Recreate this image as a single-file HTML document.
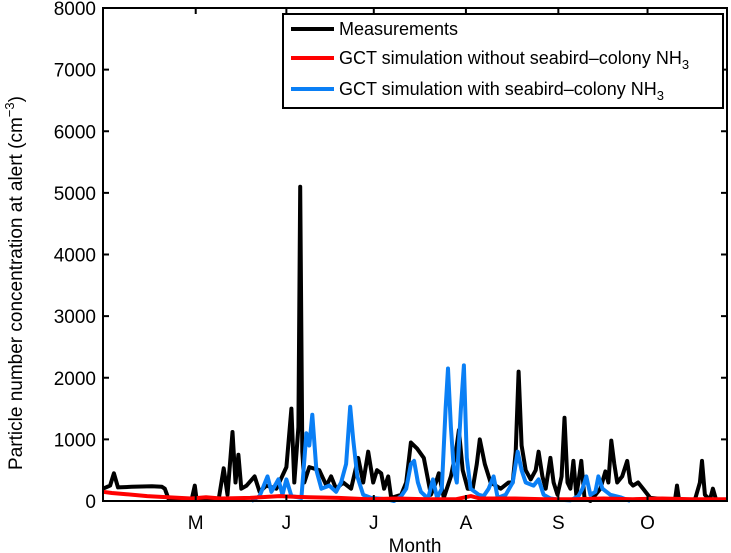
<!DOCTYPE html>
<html><head><meta charset="utf-8"><style>
body{margin:0;background:#fff;}
svg{display:block;font-family:"Liberation Sans",sans-serif;}
</style></head><body>
<svg id="chart" width="731" height="553" viewBox="0 0 731 553" xmlns="http://www.w3.org/2000/svg"></svg>
<script>
const monthLabels=["M","J","J","A","S","O"];
const monthDays=[31.5,62.3,92,123.3,154.7,185];
const yTicks=[0,1000,2000,3000,4000,5000,6000,7000,8000];
const measDays=[0,2.4,3.7,5.1,9.8,16.6,20,21,22.4,30.1,31.2,31.8,39.3,41,42.3,44,45,46,47,48.8,51.5,53.2,55.5,58.9,62.3,64,65,66.4,67,67.7,68.4,70.1,73.5,75.9,77.5,79.2,81.6,84.3,86.7,88.4,90.1,91.8,93.1,94.5,95.5,96.9,97.9,101.3,103,104.6,106.7,109,111.4,113.1,114.1,115.8,118.2,119.9,120.9,122.2,123.9,125.6,127,128,129.7,131.7,135.1,137.8,139.2,140.2,141.2,142.2,143.6,145.3,147,148,149.3,150.4,152,153.1,154.4,155.8,156.8,157.8,158.8,159.8,160.8,161.5,162.5,163.6,165.6,169,170.7,171.7,172.7,173.7,174.7,176.4,178.1,179.1,180.1,181.8,183.5,185.9,192.7,194.4,195,195.7,201.1,202.8,203.5,204.5,206.2,207.2,208.3,212];
const measVals=[200,250,450,220,230,240,230,200,20,20,250,20,30,530,100,1120,300,750,200,250,400,150,250,200,550,1500,300,1200,5100,800,300,550,500,250,400,200,300,200,700,300,800,300,500,450,200,400,50,100,300,950,850,700,100,300,450,50,400,800,1150,500,200,200,600,1000,600,300,200,300,300,800,2100,900,500,350,500,800,400,200,700,300,100,400,1350,300,200,650,100,300,650,50,0,200,480,300,980,600,300,400,650,300,250,300,200,50,20,40,250,20,20,300,650,100,20,200,20,20];
const withDays=[50.5,53.2,55.9,57.2,59.6,61,62.3,64,67.4,69.1,70.1,71.1,72.5,74.2,76.9,79.2,80.9,82.6,84,85,86.4,88.4,91.1,96.2,98.9,101.3,103,104.6,105.7,107,108,110.4,112.1,113.5,115.1,116.4,117.2,118.2,119.2,120.2,121.6,122.6,123.6,124.9,127.7,129.3,131,132.7,134.1,136.8,139.2,140.9,142.2,143.6,146.3,148,149.7,152,155.4,158.8,161.5,162.9,164.2,165.6,167.3,168.3,169.7,172.4,175.8,179.1];
const withVals=[0,80,400,150,350,100,350,80,50,1100,900,1400,500,200,250,150,300,600,1530,1000,400,100,50,30,0,80,200,600,650,300,150,40,350,50,200,1500,2150,1200,500,300,1500,2200,700,200,100,80,200,400,50,100,300,800,500,300,250,350,100,40,20,10,80,200,400,100,150,400,200,100,60,0];
const withoutDays=[0,3,8,15,22,30,35,40,50,60,65,70,80,90,100,110,120,125,128,140,150,160,170,180,190,200,212];
const withoutVals=[150,130,110,80,60,40,60,40,50,80,70,60,50,30,40,30,30,80,40,40,30,30,40,30,40,30,30];

const L=103,R=727,T=8,B=501;
const xS=d=>L+d*(R-L)/212;
const yS=v=>B-v*(B-T)/8000;
const svg=document.getElementById('chart');
const NS='http://www.w3.org/2000/svg';
function mk(tag,attrs,parent){const e=document.createElementNS(NS,tag);for(const k in attrs)e.setAttribute(k,attrs[k]);(parent||svg).appendChild(e);return e;}

function series(days,vals,color,name){
  const p=mk('path',{d:days.map((d,i)=>(i?'L':'M')+xS(d).toFixed(1)+','+yS(vals[i]).toFixed(1)).join(''),fill:'none',stroke:color,'stroke-width':4,'stroke-linejoin':'round'});
  
  
}
series(measDays,measVals,'#000','measurements-line');
series(withDays,withVals,'#0a7ff5','with-colony-line');
series(withoutDays,withoutVals,'#f00','without-colony-line');

const frame=mk('rect',{x:L,y:T,width:R-L,height:B-T,fill:'none',stroke:'#000','stroke-width':2});



yTicks.forEach(v=>{
  const y=yS(v);
  mk('line',{x1:L,x2:L+6,y1:y,y2:y,stroke:'#000','stroke-width':2});
  mk('line',{x1:R,x2:R-6,y1:y,y2:y,stroke:'#000','stroke-width':2});
  const t=mk('text',{x:L-7,y:y+7,'text-anchor':'end','font-size':19});
  t.textContent=v;
  
  
});
monthDays.forEach((d,i)=>{
  const x=xS(d);
  mk('line',{x1:x,x2:x,y1:B,y2:B-6,stroke:'#000','stroke-width':2});
  mk('line',{x1:x,x2:x,y1:T,y2:T+6,stroke:'#000','stroke-width':2});
  const t=mk('text',{x:x,y:529,'text-anchor':'middle','font-size':19});
  t.textContent=monthLabels[i];
  
  
});
const xt=mk('text',{x:(L+R)/2,y:552,'text-anchor':'middle','font-size':19});
xt.textContent='Month';


const yt=mk('text',{transform:'translate(22,283) rotate(-90)','text-anchor':'middle','font-size':19});
yt.innerHTML='Particle number concentration at alert (cm<tspan dy="-8" font-size="13">−3</tspan><tspan dy="8">)</tspan>';



const lg=mk('g',{});


mk('rect',{x:283,y:14,width:440,height:94,fill:'#fff',stroke:'#000','stroke-width':2},lg);
const entries=[['Measurements','#000',29,''],['GCT simulation without seabird–colony NH','#f00',58,'3'],['GCT simulation with seabird–colony NH','#0a7ff5',89,'3']];
entries.forEach(e=>{
  const g=mk('g',{},lg);
  
  
  mk('line',{x1:291,x2:334,y1:e[2],y2:e[2],stroke:e[1],'stroke-width':4},g);
  const t=mk('text',{x:339,y:e[2]+6,'font-size':18},g);
  t.innerHTML=e[0]+(e[3]?'<tspan dy="5" font-size="13">'+e[3]+'</tspan>':'');
});
</script>
</body></html>
